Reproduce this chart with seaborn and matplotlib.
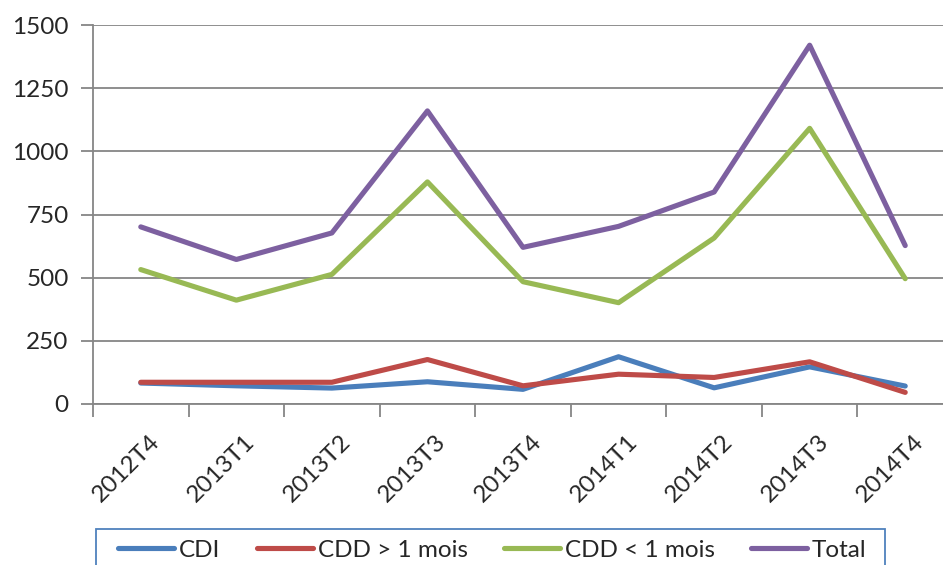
import pandas as pd
import seaborn as sns
import matplotlib.pyplot as plt
from matplotlib.patches import Rectangle
from matplotlib.transforms import ScaledTranslation

# données trimestrielles
trimestres = ["2012T4", "2013T1", "2013T2", "2013T3", "2013T4",
              "2014T1", "2014T2", "2014T3", "2014T4"]
cdi = [83, 72, 63, 88, 58, 187, 64, 147, 71]
cdd_plus_1 = [86, 86, 86, 176, 72, 118, 105, 167, 46]
cdd_moins_1 = [532, 411, 513, 879, 484, 401, 657, 1091, 496]
total = [701, 572, 677, 1160, 620, 703, 839, 1420, 627]

series = ["CDI", "CDD > 1 mois", "CDD < 1 mois", "Total"]
couleurs = ["#4A7EBB", "#BE4B48", "#98B954", "#7D60A0"]

rows = []
for nom, vals in zip(series, [cdi, cdd_plus_1, cdd_moins_1, total]):
    for i, v in enumerate(vals):
        rows.append({"pos": i, "valeur": v, "serie": nom})
df = pd.DataFrame(rows)

sns.set_style("white")
plt.rcParams["font.family"] = ["Lato", "DejaVu Sans"]

fig = plt.figure(figsize=(9.43, 5.65), dpi=100)
ax = fig.add_axes([93 / 943, 1 - 404 / 565, (953 - 93) / 943, (404 - 25) / 565])

sns.lineplot(data=df, x="pos", y="valeur", hue="serie", hue_order=series,
             palette=couleurs, linewidth=3.7, ax=ax, sort=False)

ax.set_xlim(-0.5, 8.5)
ax.set_ylim(0, 1500)
ax.set_yticks([0, 250, 500, 750, 1000, 1250, 1500])
ax.set_xticks(range(len(trimestres)))
ax.set_xticklabels(trimestres, rotation=45, ha="right", rotation_mode="anchor")
ax.set_xticks([i - 0.5 for i in range(len(trimestres) + 1)], minor=True)
ax.tick_params(axis="x", which="major", length=0, pad=19, labelsize=17.5)
ax.tick_params(axis="x", which="minor", length=9, width=1.3, color="#868686",
               direction="out", bottom=True)
ax.tick_params(axis="y", length=9, width=1.3, color="#868686", pad=8.5,
               labelsize=17.5, left=True, direction="out")
ax.set_xlabel("")
ax.set_ylabel("")

# décaler un peu les étiquettes vers la droite
decal = ScaledTranslation(8 / 100, 0, fig.dpi_scale_trans)
for lab in ax.get_xticklabels():
    lab.set_transform(lab.get_transform() + decal)

ax.grid(axis="y", color="#868686", linewidth=1.3)
ax.set_axisbelow(True)
for s in ["top", "right"]:
    ax.spines[s].set_visible(False)
for s in ["left", "bottom"]:
    ax.spines[s].set_color("#868686")
    ax.spines[s].set_linewidth(1.3)

leg = ax.get_legend()
handles = leg.legend_handles
labels = [t.get_text() for t in leg.get_texts()]
leg.remove()
for h in handles:
    h.set_linewidth(3.7)

# cadre de la légende (coupé en bas comme dans l'original)
cadre = Rectangle((96 / 943, -0.05), (885 - 96) / 943, 1 - 529 / 565 + 0.05,
                  transform=fig.transFigure, facecolor="white",
                  edgecolor="#4F81BD", linewidth=1.3)
fig.patches.append(cadre)

fig.legend(handles, labels, loc="center", ncol=4,
           bbox_to_anchor=((96 + 885) / 2 / 943 + 0.002, 1 - 550 / 565),
           borderaxespad=0, fontsize=17.5, frameon=False,
           handlelength=2.3, handletextpad=0.2, columnspacing=1.5,
           borderpad=0)

plt.savefig("out.png", dpi=100)
plt.close()
